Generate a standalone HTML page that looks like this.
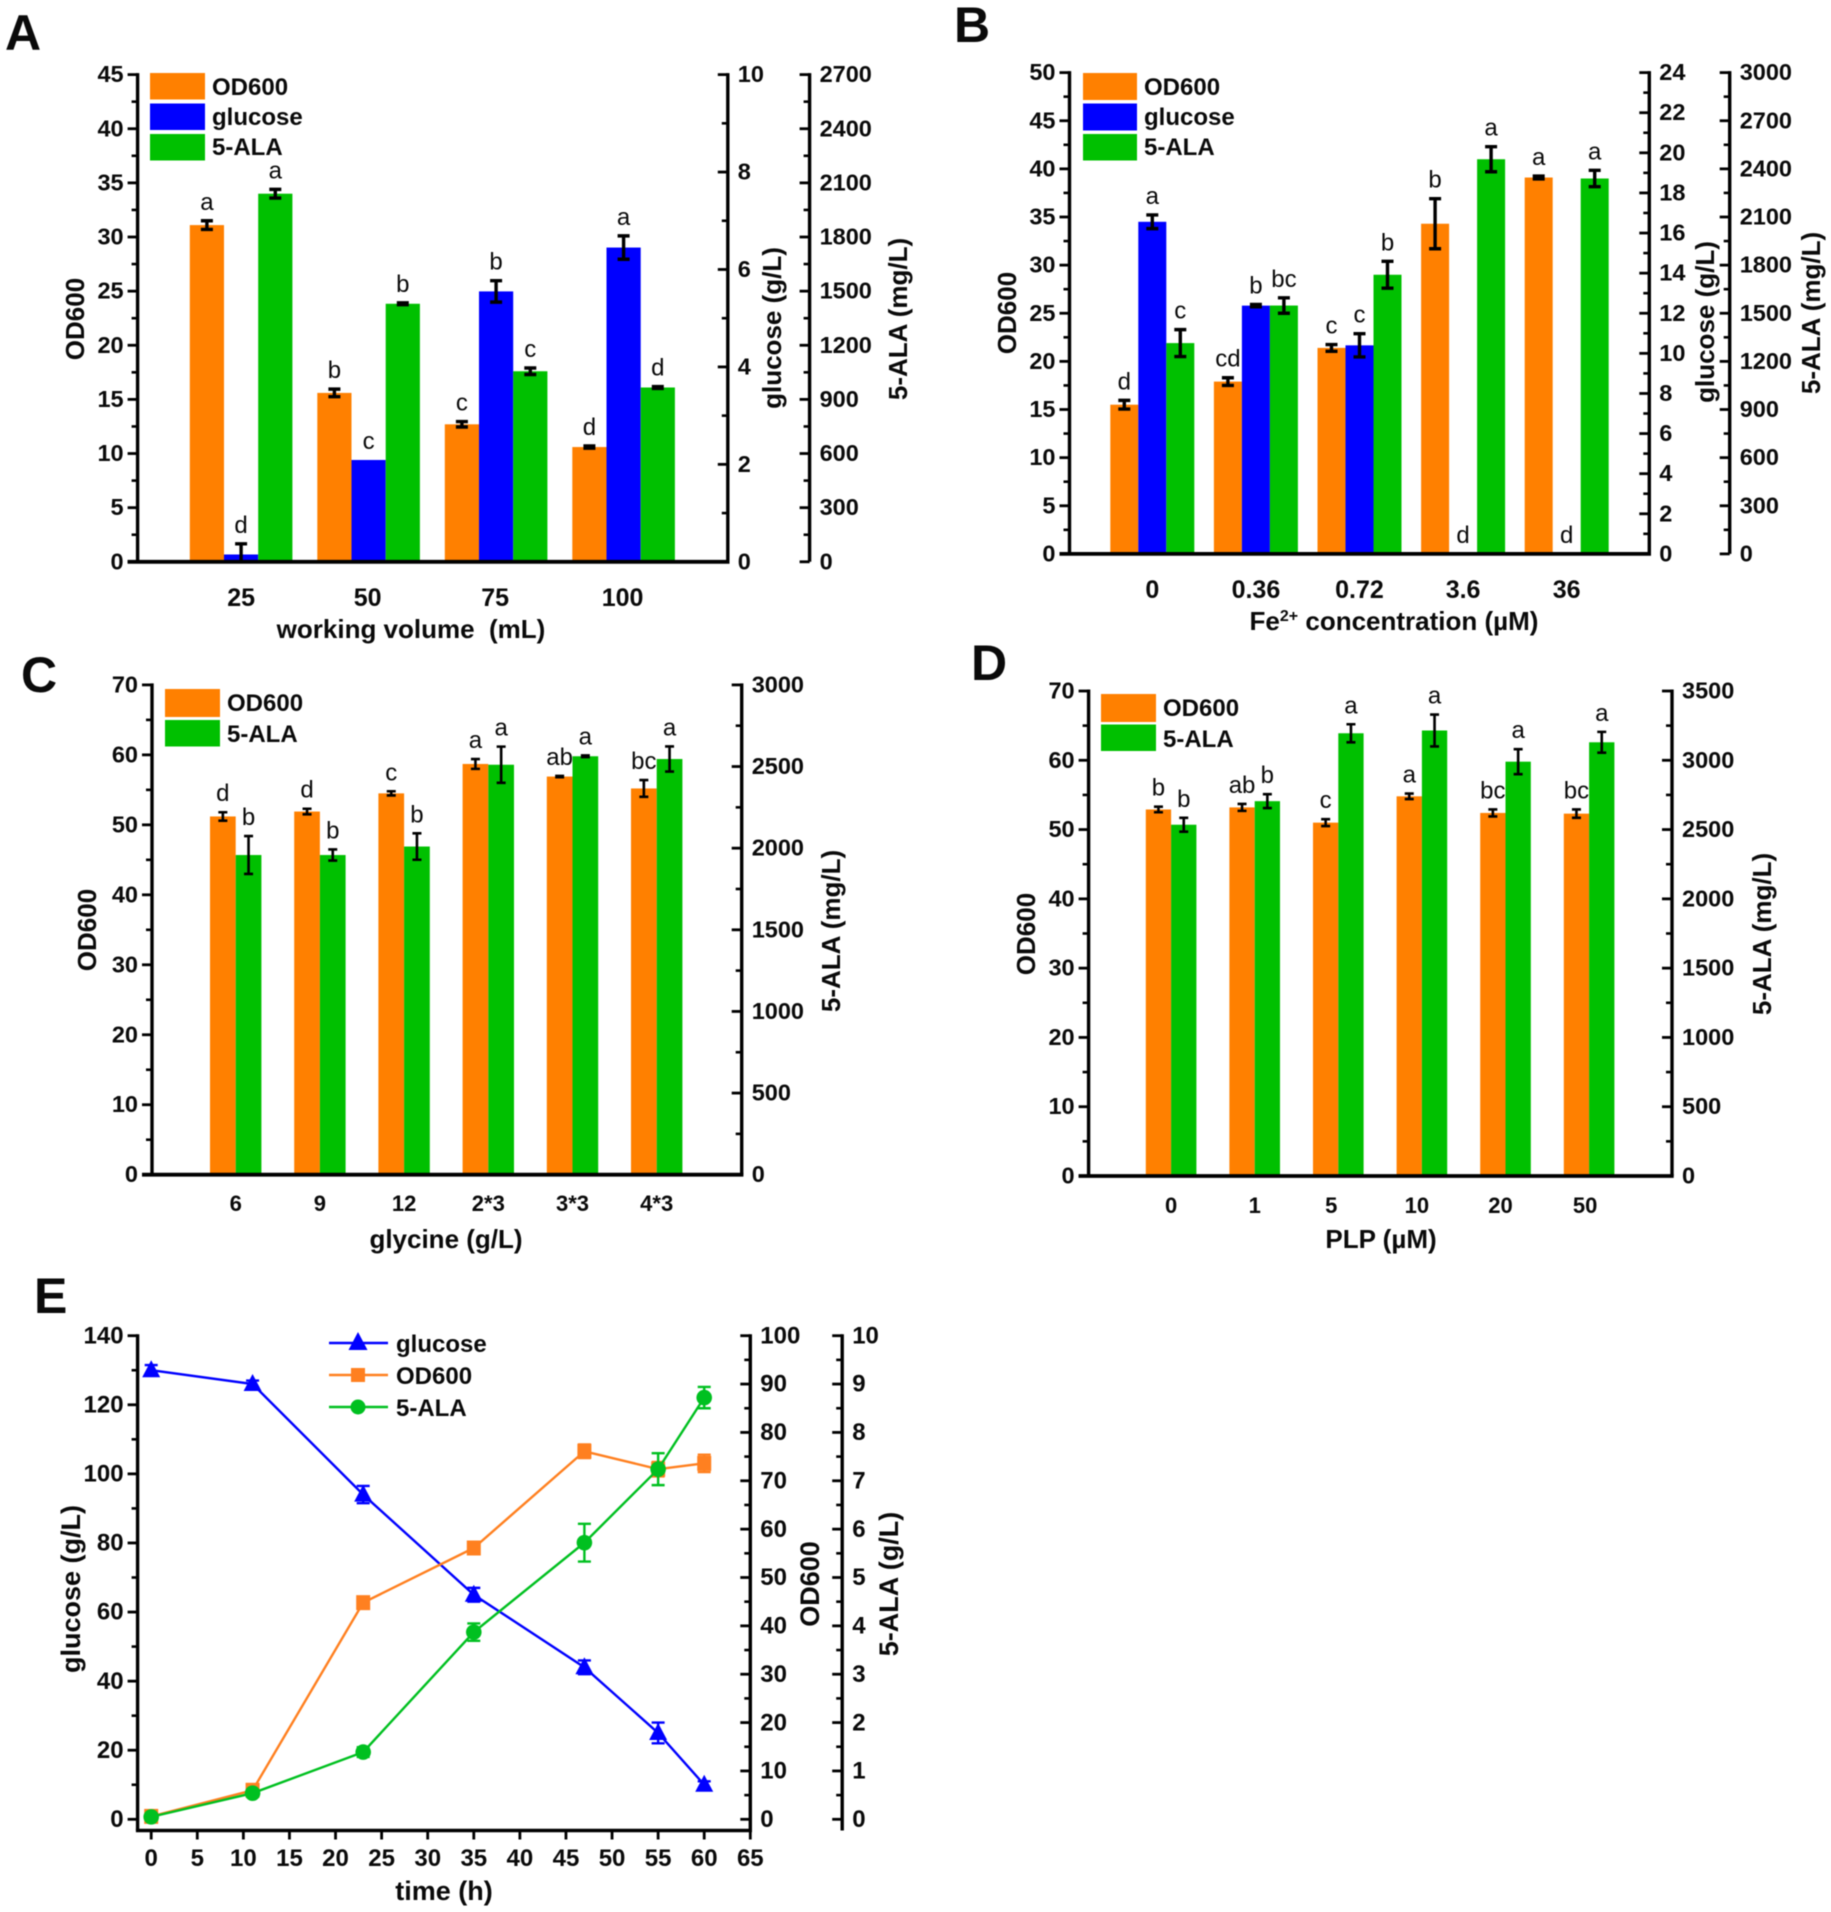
<!DOCTYPE html>
<html lang="en">
<head>
<meta charset="utf-8">
<title>Fermentation optimisation charts</title>
<style>
html,body{margin:0;padding:0;background:#fff;}
svg{display:block;filter:blur(0.45px);}
text{font-family:"Liberation Sans",Arial,sans-serif;fill:#0a0a0a;}
.b{font-weight:700;}
.pl{font-size:50px;font-weight:700;}
.t{font-size:26px;font-weight:700;}
.te{font-size:27px;font-weight:700;}
.l{font-size:24px;font-weight:700;}
</style>
</head>
<body>
<svg id="figure" xmlns="http://www.w3.org/2000/svg" width="1831" height="1912" viewBox="0 0 1831 1912">
  <rect width="1831" height="1912" fill="#fff"/>

  <g id="panel-a">
    <text class="pl" x="5" y="50">A</text>
    <text class="t" text-anchor="middle" x="411" y="638" style="white-space:pre">working volume  (mL)</text>
    <text class="t" text-anchor="middle" transform="translate(84,319) rotate(-90)">OD600</text>
    <text class="t" text-anchor="middle" transform="translate(781,328) rotate(-90)">glucose (g/L)</text>
    <text class="t" text-anchor="middle" transform="translate(907,319) rotate(-90)">5-ALA (mg/L)</text>
  </g>
  <g id="legend-a">
    <rect x="150" y="73" width="55" height="26.5" fill="#ff8000"/>
    <rect x="150" y="103.5" width="55" height="26.5" fill="#0000ff"/>
    <rect x="150" y="134" width="55" height="26.5" fill="#00c000"/>
    <text class="l" x="212" y="95">OD600</text>
    <text class="l" x="212" y="125">glucose</text>
    <text class="l" x="212" y="155">5-ALA</text>
  </g>

  <g id="panel-b">
    <text class="pl" x="954" y="42">B</text>
    <text class="t" text-anchor="middle" x="1394" y="630">Fe<tspan font-size="16" dy="-9">2+</tspan><tspan dy="9"> concentration (µM)</tspan></text>
    <text class="t" text-anchor="middle" transform="translate(1016,313) rotate(-90)">OD600</text>
    <text class="t" text-anchor="middle" transform="translate(1714,322) rotate(-90)">glucose (g/L)</text>
    <text class="t" text-anchor="middle" transform="translate(1820,313) rotate(-90)">5-ALA (mg/L)</text>
  </g>
  <g id="legend-b">
    <rect x="1083" y="73" width="54" height="27" fill="#ff8000"/>
    <rect x="1083" y="103.5" width="54" height="27" fill="#0000ff"/>
    <rect x="1083" y="134" width="54" height="26.5" fill="#00c000"/>
    <text class="l" x="1144" y="95">OD600</text>
    <text class="l" x="1144" y="125">glucose</text>
    <text class="l" x="1144" y="155">5-ALA</text>
  </g>

  <g id="panel-c">
    <text class="pl" x="21" y="692">C</text>
    <text class="t" text-anchor="middle" x="446" y="1248">glycine (g/L)</text>
    <text class="t" text-anchor="middle" transform="translate(96,930) rotate(-90)">OD600</text>
    <text class="t" text-anchor="middle" transform="translate(840,931) rotate(-90)">5-ALA (mg/L)</text>
  </g>
  <g id="legend-c">
    <rect x="165" y="689" width="55" height="28" fill="#ff8000"/>
    <rect x="165" y="720" width="55" height="26.5" fill="#00c000"/>
    <text class="l" x="227" y="711">OD600</text>
    <text class="l" x="227" y="742">5-ALA</text>
  </g>

  <g id="panel-d">
    <text class="pl" x="971" y="680">D</text>
    <text class="t" text-anchor="middle" x="1381" y="1248">PLP (µM)</text>
    <text class="t" text-anchor="middle" transform="translate(1035,934) rotate(-90)">OD600</text>
    <text class="t" text-anchor="middle" transform="translate(1771,934) rotate(-90)">5-ALA (mg/L)</text>
  </g>
  <g id="legend-d">
    <rect x="1101" y="694" width="55" height="28" fill="#ff8000"/>
    <rect x="1101" y="724.5" width="55" height="26.5" fill="#00c000"/>
    <text class="l" x="1163" y="716">OD600</text>
    <text class="l" x="1163" y="747">5-ALA</text>
  </g>

  <g id="panel-e">
    <text class="pl" x="34" y="1313">E</text>
    <text class="te" text-anchor="middle" x="444" y="1900">time (h)</text>
    <text class="te" text-anchor="middle" transform="translate(80,1589) rotate(-90)">glucose (g/L)</text>
    <text class="te" text-anchor="middle" transform="translate(819,1584) rotate(-90)">OD600</text>
    <text class="te" text-anchor="middle" transform="translate(898,1584) rotate(-90)">5-ALA (g/L)</text>
  </g>
  <g id="legend-e">
    <line x1="329" x2="388" y1="1343" y2="1343" stroke="#0000ff" stroke-width="2.4"/>
    <polygon points="358,1332 367.500,1350 348.500,1350" fill="#0000ff"/>
    <line x1="329" x2="388" y1="1375" y2="1375" stroke="#ff8020" stroke-width="2.4"/>
    <rect x="351" y="1368" width="14" height="14" fill="#ff8020"/>
    <line x1="329" x2="388" y1="1407" y2="1407" stroke="#00c020" stroke-width="2.4"/>
    <circle cx="358" cy="1407" r="7.500" fill="#00c020"/>
    <text class="l" x="396" y="1352">glucose</text>
    <text class="l" x="396" y="1384">OD600</text>
    <text class="l" x="396" y="1416">5-ALA</text>
  </g>
</svg>

<script>
// ---------- Panel A data ----------
const panelACategories = ['25', '50', '75', '100'];
const panelAOd = [31.1, 15.6, 12.7, 10.6];
const panelAOdErr = [0.4, 0.35, 0.25, 0.1];
const panelAOdLetters = ['a', 'b', 'c', 'd'];
const panelAGlucose = [0.15, 2.09, 5.55, 6.45];
const panelAGlucoseErr = [0.22, 0, 0.22, 0.24];
const panelAGlucoseLetters = ['d', 'c', 'b', 'a'];
const panelAAla = [2040, 1430, 1056, 966];
const panelAAlaErr = [24, 5, 18, 5];
const panelAAlaLetters = ['a', 'b', 'c', 'd'];
const panelAOdTicks = [0, 5, 10, 15, 20, 25, 30, 35, 40, 45];
const panelAGlucoseTicks = [0, 2, 4, 6, 8, 10];
const panelAAlaTicks = [0, 300, 600, 900, 1200, 1500, 1800, 2100, 2400, 2700];

// ---------- Panel B data ----------
const panelBCategories = ['0', '0.36', '0.72', '3.6', '36'];
const panelBOd = [15.5, 17.9, 21.4, 34.3, 39.1];
const panelBOdErr = [0.45, 0.4, 0.35, 2.6, 0.15];
const panelBOdLetters = ['d', 'cd', 'c', 'b', 'a'];
const panelBGlucose = [16.56, 12.38, 10.4, 0, 0];
const panelBGlucoseErr = [0.34, 0.06, 0.58, 0, 0];
const panelBGlucoseLetters = ['a', 'b', 'c', 'd', 'd'];
const panelBAla = [1314, 1548, 1740, 2460, 2340];
const panelBAlaErr = [84, 48, 84, 78, 51];
const panelBAlaLetters = ['c', 'bc', 'b', 'a', 'a'];
const panelBOdTicks = [0, 5, 10, 15, 20, 25, 30, 35, 40, 45, 50];
const panelBGlucoseTicks = [0, 2, 4, 6, 8, 10, 12, 14, 16, 18, 20, 22, 24];
const panelBAlaTicks = [0, 300, 600, 900, 1200, 1500, 1800, 2100, 2400, 2700, 3000];

// ---------- Panel C data ----------
const panelCCategories = ['6', '9', '12', '2*3', '3*3', '4*3'];
const panelCOd = [51.2, 51.9, 54.5, 58.7, 56.9, 55.2];
const panelCOdErr = [0.6, 0.4, 0.3, 0.7, 0.1, 1.2];
const panelCOdLetters = ['d', 'd', 'c', 'a', 'ab', 'bc'];
const panelCAla = [1958, 1958, 2010, 2511, 2563, 2546];
const panelCAlaErr = [116, 34, 81, 111, 5, 77];
const panelCAlaLetters = ['b', 'b', 'b', 'a', 'a', 'a'];
const panelCOdTicks = [0, 10, 20, 30, 40, 50, 60, 70];
const panelCAlaTicks = [0, 500, 1000, 1500, 2000, 2500, 3000];

// ---------- Panel D data ----------
const panelDCategories = ['0', '1', '5', '10', '20', '50'];
const panelDOd = [52.9, 53.2, 51, 54.8, 52.4, 52.3];
const panelDOdErr = [0.4, 0.5, 0.5, 0.4, 0.5, 0.6];
const panelDOdLetters = ['b', 'ab', 'c', 'a', 'bc', 'bc'];
const panelDAla = [2535, 2705, 3195, 3215, 2990, 3130];
const panelDAlaErr = [50, 50, 65, 115, 90, 75];
const panelDAlaLetters = ['b', 'b', 'a', 'a', 'a', 'a'];
const panelDOdTicks = [0, 10, 20, 30, 40, 50, 60, 70];
const panelDAlaTicks = [0, 500, 1000, 1500, 2000, 2500, 3000, 3500];

// ---------- Panel E data ----------
const panelETime = [0, 11, 23, 35, 47, 55, 60];
const panelEGlucose = [130, 126, 94, 65, 44, 25, 10];
const panelEGlucoseErr = [1.5, 1, 2.5, 2, 2, 3, 1];
const panelEOd = [0.6, 6.0, 44.8, 56.1, 76.1, 72.4, 73.6];
const panelEOdErr = [0.4, 0.6, 1.2, 1.2, 1.4, 1.5, 1.8];
const panelEAla = [0.05, 0.54, 1.39, 3.87, 5.72, 7.24, 8.72];
const panelEAlaErr = [0.03, 0.05, 0.1, 0.18, 0.39, 0.33, 0.22];
const panelETimeTicks = [0, 5, 10, 15, 20, 25, 30, 35, 40, 45, 50, 55, 60, 65];
const panelEGlucoseTicks = [0, 20, 40, 60, 80, 100, 120, 140];
const panelEOdTicks = [0, 10, 20, 30, 40, 50, 60, 70, 80, 90, 100];
const panelEAlaTicks = [0, 1, 2, 3, 4, 5, 6, 7, 8, 9, 10];

// ---------- Colours ----------
const ORANGE = '#ff8000';
const BLUE = '#0000ff';
const GREEN = '#00c000';

// ---------- Helpers ----------
const NS = 'http://www.w3.org/2000/svg';
function make(parent, tag, props) {
  const el = document.createElementNS(NS, tag);
  for (const k in props) el.setAttribute(k, props[k]);
  parent.appendChild(el);
  return el;
}
function linear(d0, d1, r0, r1) {
  return function (v) { return r0 + (v - d0) * (r1 - r0) / (d1 - d0); };
}
function group(parentId, name) {
  const g = make(document.getElementById(parentId), 'g', {});
  
  
  return g;
}

// Vertical axis: spine, major + mid-way minor ticks (pointing left), labels on given side
function drawYAxis(parentId, name, opts) {
  const g = group(parentId, name);
  const spine = make(g, 'line', {x1: opts.x, x2: opts.x, y1: opts.top - 1.5, y2: opts.bottom, stroke: '#000', 'stroke-width': 3.4});
  
  
  opts.ticks.forEach(function (t, i) {
    const y = opts.scale(t);
    const tick = make(g, 'line', {x1: opts.x - 10, x2: opts.x, y1: y, y2: y, stroke: '#000', 'stroke-width': 2.8});
    
    
    if (i < opts.ticks.length - 1) {
      const my = opts.scale((t + opts.ticks[i + 1]) / 2);
      const minor = make(g, 'line', {x1: opts.x - 6, x2: opts.x, y1: my, y2: my, stroke: '#000', 'stroke-width': 2.6});
      
      
    }
    const label = make(g, 'text', {
      x: opts.side === 'left' ? opts.x - 14 : opts.x + 10,
      y: y + opts.fontSize * 0.32,
      'text-anchor': opts.side === 'left' ? 'end' : 'start',
      'font-size': opts.fontSize,
      'font-weight': 700
    });
    label.textContent = String(t);
    
    
  });
}

// Grouped bars with error bars and significance letters
function drawBarSeries(parentId, name, opts) {
  const g = group(parentId, name);
  opts.values.forEach(function (v, i) {
    const left = opts.start + i * opts.step + opts.slot * opts.barWidth;
    const cx = left + opts.barWidth / 2;
    const yTop = opts.scale(v);
    const bar = make(g, 'rect', {x: left, y: yTop, width: opts.barWidth, height: Math.max(0, opts.scale(0) - yTop), fill: opts.color});
    
    
    const e = opts.errors[i];
    if (e > 0) {
      const y1 = opts.scale(v + e);
      const y2 = Math.min(opts.scale(v - e), opts.scale(0));
      const err = make(g, 'path', {
        d: 'M' + (cx - opts.cap) + ' ' + y1 + 'H' + (cx + opts.cap) + 'M' + cx + ' ' + y1 + 'V' + y2 + 'M' + (cx - opts.cap) + ' ' + y2 + 'H' + (cx + opts.cap),
        stroke: '#000', 'stroke-width': opts.errWidth, fill: 'none'
      });
      
      
    }
    const letter = make(g, 'text', {
      x: cx, y: opts.scale(v + e) - 11, 'text-anchor': 'middle', 'font-size': 24
    });
    letter.textContent = opts.letters[i];
    
    
  });
}

// Horizontal baseline + category labels for bar panels
function drawCategoryAxis(parentId, opts) {
  const g = group(parentId, 'x-axis');
  const base = make(g, 'line', {x1: opts.left - 10, x2: opts.right + 1.7, y1: opts.bottom, y2: opts.bottom, stroke: '#000', 'stroke-width': 3.8});
  
  
  const nudge = opts.labelNudge || {};
  opts.categories.forEach(function (c, i) {
    const label = make(g, 'text', {
      x: opts.start + i * opts.step + opts.groupWidth / 2 + (nudge[c] || 0), y: opts.labelY,
      'text-anchor': 'middle', 'font-size': opts.fontSize, 'font-weight': 700
    });
    label.textContent = c;
    
    
  });
}

// Line series with markers and error bars
function drawLineSeries(parentId, name, opts) {
  const g = group(parentId, name);
  const pts = opts.xs.map(function (t, i) { return opts.xScale(t) + ',' + opts.yScale(opts.values[i]); }).join(' ');
  const line = make(g, 'polyline', {points: pts, fill: 'none', stroke: opts.color, 'stroke-width': 2.4});
  
  
  opts.xs.forEach(function (t, i) {
    const cx = opts.xScale(t);
    const cy = opts.yScale(opts.values[i]);
    const y1 = opts.yScale(opts.values[i] + opts.errors[i]);
    const y2 = opts.yScale(opts.values[i] - opts.errors[i]);
    const err = make(g, 'path', {
      d: 'M' + (cx - 6.5) + ' ' + y1 + 'H' + (cx + 6.5) + 'M' + cx + ' ' + y1 + 'V' + y2 + 'M' + (cx - 6.5) + ' ' + y2 + 'H' + (cx + 6.5),
      stroke: opts.color, 'stroke-width': 2.4, fill: 'none'
    });
    
    
    let marker;
    if (opts.marker === 'triangle') {
      marker = make(g, 'polygon', {points: cx + ',' + (cy - 10) + ' ' + (cx + 9) + ',' + (cy + 7) + ' ' + (cx - 9) + ',' + (cy + 7), fill: opts.color});
    } else if (opts.marker === 'square') {
      marker = make(g, 'rect', {x: cx - 7, y: cy - 7.5, width: 14, height: 15, fill: opts.color});
    } else {
      marker = make(g, 'circle', {cx: cx, cy: cy, r: 7.8, fill: opts.color});
    }
    
    
  });
}

// ---------- Panel A ----------
(function () {
  const top = 74.6, bottom = 561.8, left = 137.6, right = 727.8, ala = 809.6;
  const od = linear(0, 45, bottom, top), glu = linear(0, 10, bottom, top), al = linear(0, 2700, bottom, top);
  const common = {start: 189.8, step: 127.5, barWidth: 34.2, cap: 6, errWidth: 3.4};
  drawBarSeries('panel-a', 'od600', Object.assign({}, common, {slot: 0, values: panelAOd, errors: panelAOdErr, letters: panelAOdLetters, scale: od, color: ORANGE}));
  drawBarSeries('panel-a', 'glucose', Object.assign({}, common, {slot: 1, values: panelAGlucose, errors: panelAGlucoseErr, letters: panelAGlucoseLetters, scale: glu, color: BLUE}));
  drawBarSeries('panel-a', '5-ala', Object.assign({}, common, {slot: 2, values: panelAAla, errors: panelAAlaErr, letters: panelAAlaLetters, scale: al, color: GREEN}));
  drawYAxis('panel-a', 'y-axis-od600', {x: left, top: top, bottom: bottom, scale: od, ticks: panelAOdTicks, side: 'left', fontSize: 23.5});
  drawYAxis('panel-a', 'y-axis-glucose', {x: right, top: top, bottom: bottom, scale: glu, ticks: panelAGlucoseTicks, side: 'right', fontSize: 23.5});
  drawYAxis('panel-a', 'y-axis-5-ala', {x: ala, top: top, bottom: bottom, scale: al, ticks: panelAAlaTicks, side: 'right', fontSize: 23.5});
  drawCategoryAxis('panel-a', {left: left, right: right, bottom: bottom, categories: panelACategories, start: 189.8, step: 127.5, groupWidth: 102.6, labelY: 606, fontSize: 25, labelNudge: {'50': -1, '75': -1, '100': -1}});
})();

// ---------- Panel B ----------
(function () {
  const top = 72.6, bottom = 553.9, left = 1069.5, right = 1649.3, ala = 1729.7;
  const od = linear(0, 50, bottom, top), glu = linear(0, 24, bottom, top), al = linear(0, 3000, bottom, top);
  const common = {start: 1110.3, step: 103.6, barWidth: 28, cap: 6, errWidth: 3.4};
  drawBarSeries('panel-b', 'od600', Object.assign({}, common, {slot: 0, values: panelBOd, errors: panelBOdErr, letters: panelBOdLetters, scale: od, color: ORANGE}));
  drawBarSeries('panel-b', 'glucose', Object.assign({}, common, {slot: 1, values: panelBGlucose, errors: panelBGlucoseErr, letters: panelBGlucoseLetters, scale: glu, color: BLUE}));
  drawBarSeries('panel-b', '5-ala', Object.assign({}, common, {slot: 2, values: panelBAla, errors: panelBAlaErr, letters: panelBAlaLetters, scale: al, color: GREEN}));
  drawYAxis('panel-b', 'y-axis-od600', {x: left, top: top, bottom: bottom, scale: od, ticks: panelBOdTicks, side: 'left', fontSize: 23.5});
  drawYAxis('panel-b', 'y-axis-glucose', {x: right, top: top, bottom: bottom, scale: glu, ticks: panelBGlucoseTicks, side: 'right', fontSize: 23.5});
  drawYAxis('panel-b', 'y-axis-5-ala', {x: ala, top: top, bottom: bottom, scale: al, ticks: panelBAlaTicks, side: 'right', fontSize: 23.5});
  drawCategoryAxis('panel-b', {left: left, right: right, bottom: bottom, categories: panelBCategories, start: 1110.3, step: 103.6, groupWidth: 84, labelY: 598, fontSize: 25});
})();

// ---------- Panel C ----------
(function () {
  const top = 684.9, bottom = 1174.7, left = 152, right = 741.7;
  const od = linear(0, 70, bottom, top), al = linear(0, 3000, bottom, top);
  const common = {start: 210, step: 84.2, barWidth: 25.7, cap: 4.5, errWidth: 2.6};
  drawBarSeries('panel-c', 'od600', Object.assign({}, common, {slot: 0, values: panelCOd, errors: panelCOdErr, letters: panelCOdLetters, scale: od, color: ORANGE}));
  drawBarSeries('panel-c', '5-ala', Object.assign({}, common, {slot: 1, values: panelCAla, errors: panelCAlaErr, letters: panelCAlaLetters, scale: al, color: GREEN}));
  drawYAxis('panel-c', 'y-axis-od600', {x: left, top: top, bottom: bottom, scale: od, ticks: panelCOdTicks, side: 'left', fontSize: 23.5});
  drawYAxis('panel-c', 'y-axis-5-ala', {x: right, top: top, bottom: bottom, scale: al, ticks: panelCAlaTicks, side: 'right', fontSize: 23.5});
  drawCategoryAxis('panel-c', {left: left, right: right, bottom: bottom, categories: panelCCategories, start: 210, step: 84.2, groupWidth: 51.4, labelY: 1211, fontSize: 22});
})();

// ---------- Panel D ----------
(function () {
  const top = 691, bottom = 1176, left = 1088.6, right = 1672;
  const od = linear(0, 70, bottom, top), al = linear(0, 3500, bottom, top);
  const common = {start: 1145.8, step: 83.6, barWidth: 25.3, cap: 4.5, errWidth: 2.6};
  drawBarSeries('panel-d', 'od600', Object.assign({}, common, {slot: 0, values: panelDOd, errors: panelDOdErr, letters: panelDOdLetters, scale: od, color: ORANGE}));
  drawBarSeries('panel-d', '5-ala', Object.assign({}, common, {slot: 1, values: panelDAla, errors: panelDAlaErr, letters: panelDAlaLetters, scale: al, color: GREEN}));
  drawYAxis('panel-d', 'y-axis-od600', {x: left, top: top, bottom: bottom, scale: od, ticks: panelDOdTicks, side: 'left', fontSize: 23.5});
  drawYAxis('panel-d', 'y-axis-5-ala', {x: right, top: top, bottom: bottom, scale: al, ticks: panelDAlaTicks, side: 'right', fontSize: 23.5});
  drawCategoryAxis('panel-d', {left: left, right: right, bottom: bottom, categories: panelDCategories, start: 1145.8, step: 83.6, groupWidth: 50.6, labelY: 1213, fontSize: 22, labelNudge: {'5': -7, '10': -5, '20': -5, '50': -4}});
})();

// ---------- Panel E ----------
(function () {
  const top = 1335.7, zero = 1819.3, bottom = 1830.5, left = 137.6, right = 750.3, ala = 842.2;
  const x = linear(0, 65, 151.2, 750.3);
  const glu = linear(0, 140, zero, top), od = linear(0, 100, zero, top), al = linear(0, 10, zero, top);
  drawYAxis('panel-e', 'y-axis-glucose', {x: left, top: top, bottom: bottom, scale: glu, ticks: panelEGlucoseTicks, side: 'left', fontSize: 24});
  drawYAxis('panel-e', 'y-axis-od600', {x: right, top: top, bottom: bottom, scale: od, ticks: panelEOdTicks, side: 'right', fontSize: 24});
  drawYAxis('panel-e', 'y-axis-5-ala', {x: ala, top: top, bottom: bottom, scale: al, ticks: panelEAlaTicks, side: 'right', fontSize: 24});
  const g = group('panel-e', 'x-axis');
  const base = make(g, 'line', {x1: left - 1.7, x2: right + 1.7, y1: bottom, y2: bottom, stroke: '#000', 'stroke-width': 3.6});
  
  
  panelETimeTicks.forEach(function (t) {
    const tick = make(g, 'line', {x1: x(t), x2: x(t), y1: bottom, y2: bottom + 9, stroke: '#000', 'stroke-width': 2.8});
    
    
    const label = make(g, 'text', {x: x(t), y: 1866, 'text-anchor': 'middle', 'font-size': 24, 'font-weight': 700});
    label.textContent = String(t);
    
    
  });
  drawLineSeries('panel-e', 'glucose', {xs: panelETime, values: panelEGlucose, errors: panelEGlucoseErr, xScale: x, yScale: glu, color: BLUE, marker: 'triangle'});
  drawLineSeries('panel-e', 'od600', {xs: panelETime, values: panelEOd, errors: panelEOdErr, xScale: x, yScale: od, color: '#ff8020', marker: 'square'});
  drawLineSeries('panel-e', '5-ala', {xs: panelETime, values: panelEAla, errors: panelEAlaErr, xScale: x, yScale: al, color: '#00c020', marker: 'circle'});
})();
</script>
</body>
</html>
